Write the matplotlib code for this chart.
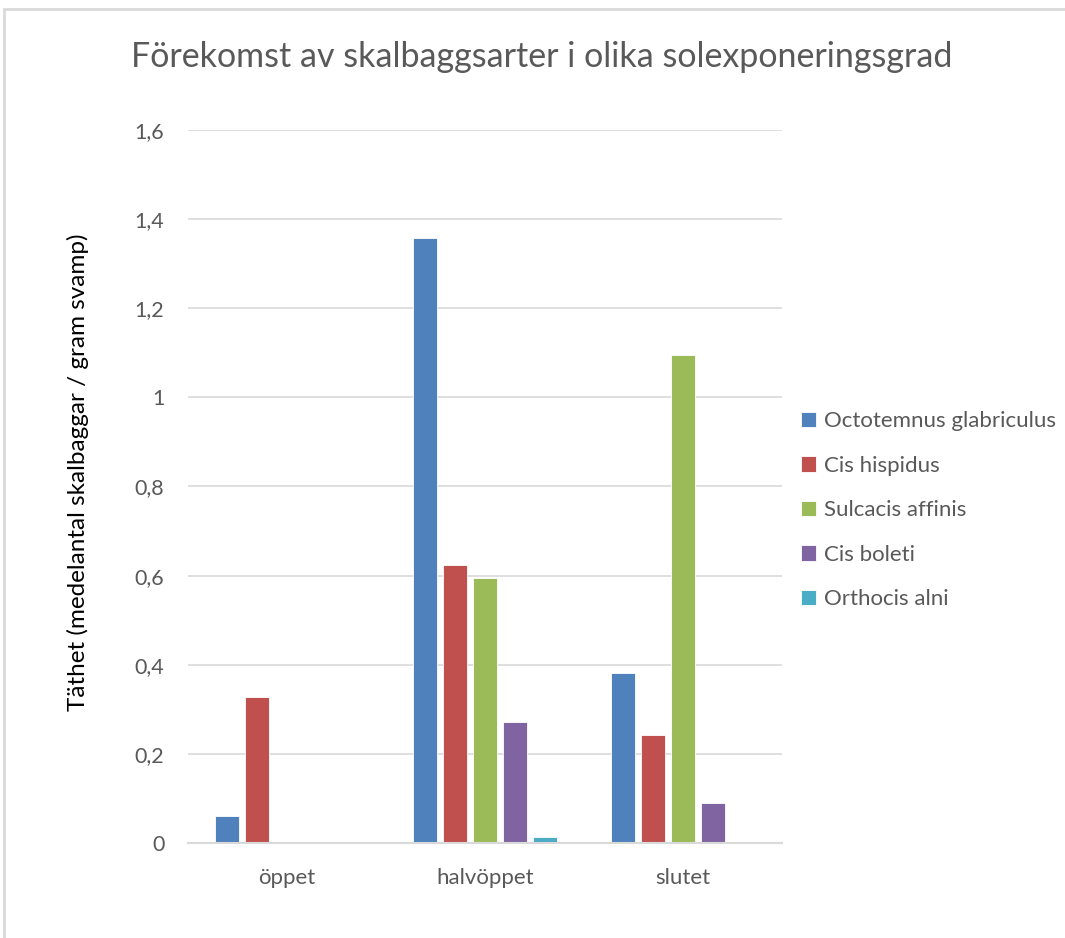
import numpy as np
import matplotlib
matplotlib.use("Agg")
import matplotlib.pyplot as plt
from matplotlib.ticker import FuncFormatter
from matplotlib.patches import Rectangle

plt.rcParams['font.family'] = ['Lato', 'DejaVu Sans']

categories = ['öppet', 'halvöppet', 'slutet']
species = ['Octotemnus glabriculus', 'Cis hispidus', 'Sulcacis affinis',
           'Cis boleti', 'Orthocis alni']
values = [
    [0.061, 1.357, 0.382],   # Octotemnus glabriculus
    [0.328, 0.624, 0.242],   # Cis hispidus
    [0.0, 0.594, 1.095],     # Sulcacis affinis
    [0.0, 0.272, 0.089],     # Cis boleti
    [0.0, 0.0135, 0.0],      # Orthocis alni
]
colors = ['#4F81BD', '#C0504D', '#9BBB59', '#8064A2', '#4BACC6']

text_col = '#595959'
grid_col = '#D9D9D9'

fig = plt.figure(figsize=(10.65, 9.38), dpi=100)
ax = fig.add_axes([0.1765, 0.1013, 0.5577, 0.7601])

x = np.arange(len(categories))
step = 0.152
width = 0.121
for i, (name, vals) in enumerate(zip(species, values)):
    offs = (i - 2) * step
    ax.bar(x + offs, vals, width, color=colors[i], label=name,
           edgecolor='white', linewidth=0.6, zorder=3)

ax.set_xlim(-0.5, 2.5)
ax.set_ylim(0, 1.6)
ax.set_yticks(np.arange(0, 1.61, 0.2))


def comma_fmt(v, pos):
    s = ('%.1f' % v).replace('.', ',')
    return s[:-2] if s.endswith(',0') else s


ax.yaxis.set_major_formatter(FuncFormatter(comma_fmt))
ax.set_xticks(x)
ax.set_xticklabels(categories)
ax.tick_params(axis='y', length=0, labelsize=15.5, colors=text_col, pad=17)
ax.tick_params(axis='x', length=0, labelsize=16, colors=text_col, pad=18)

ax.grid(axis='y', color=grid_col, linewidth=1.2, zorder=0)
for side in ['left', 'right', 'top']:
    ax.spines[side].set_visible(False)
ax.spines['bottom'].set_color(grid_col)
ax.spines['bottom'].set_linewidth(1.5)
ax.spines['bottom'].set_zorder(4)

ax.set_ylabel('Täthet (medelantal skalbaggar / gram svamp)', fontsize=17.5,
              color='black')
ax.yaxis.set_label_coords(-0.167, 0.52)

fig.text(0.509, 0.939, 'Förekomst av skalbaggsarter i olika solexponeringsgrad',
         ha='center', va='center', fontsize=24.5, color=text_col)

ax.legend(loc='center left', bbox_to_anchor=(0.733, 0.456),
          bbox_transform=fig.transFigure, frameon=False, fontsize=16,
          handlelength=0.7, handleheight=0.7, handletextpad=0.35,
          labelspacing=1.1, labelcolor=text_col)

# thin frame around the chart area
fig.patches.append(Rectangle((4 / 1065, -0.05), 1.2, 1 - 9 / 938 + 0.05,
                             transform=fig.transFigure, fill=False,
                             edgecolor='#D9D9D9', linewidth=2))

fig.savefig('out.png', dpi=100)
